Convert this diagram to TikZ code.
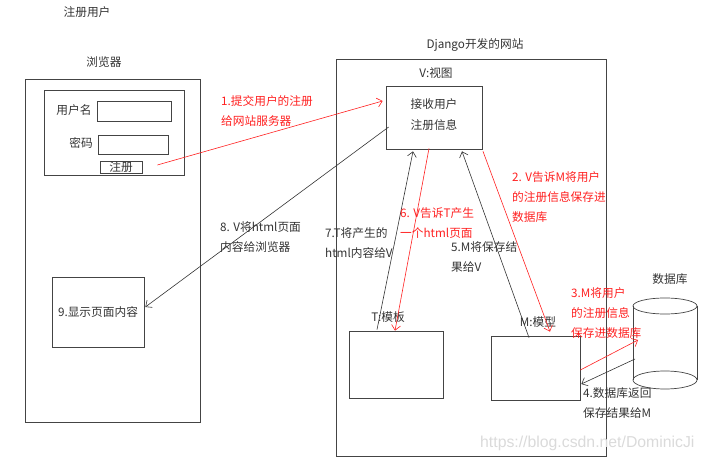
\documentclass[tikz,border=0pt]{standalone}
\usepackage{fontspec}
\setmainfont{Noto Sans CJK SC}
\newfontfamily\wmfont{Liberation Sans}
\usetikzlibrary{arrows.meta,calc}
\definecolor{ink}{HTML}{333333}
\definecolor{boxline}{HTML}{444444}
\definecolor{redline}{HTML}{FF2020}
\definecolor{wmgray}{HTML}{DADADA}
\tikzset{
  box/.style={draw=boxline,line width=0.7pt,inner sep=0pt,minimum width=#1},
  txt/.style={text=ink,inner sep=0pt,font=\fontsize{11.7}{20}\selectfont},
  lbl/.style={txt,anchor=west,align=left},
  rlbl/.style={lbl,text=redline},
  blackarrow/.style={draw=ink,line width=0.6pt,-{Straight Barb[length=5pt,width=9pt]}},
  redarrow/.style={draw=redline,line width=0.6pt,-{Straight Barb[length=5pt,width=9pt]}},
}
\begin{document}
\begin{tikzpicture}[x=1pt,y=-1pt]
\useasboundingbox (0,0) rectangle (704,462);
% titles
\node[txt] (tUser) at (87,12) {注册用户};
\node[txt] (tBrowser) at (104,62) {浏览器};
\node[txt] (tSite) at (475,45) {Django开发的网站};
% browser
\node[box=175pt,minimum height=343pt] (browser) at (112.5,250.5) {};
\node[box=140pt,minimum height=85pt] (form) at (114,132.5) {};
\node[txt] (lUser) at (74,110) {用户名};
\node[box=74pt,minimum height=20pt] (in1) at (134,111) {};
\node[txt] (lPwd) at (81,143) {密码};
\node[box=70pt,minimum height=19pt] (in2) at (133,144.5) {};
\node[box=42pt,minimum height=12pt,txt,draw=boxline] (btn) at (121,167) {注册};
\node[box=92pt,minimum height=70pt] (show) at (98,312) {};
\node[txt] (showtxt) at (98,312) {9.显示页面内容};
% site
\node[box=270pt,minimum height=397pt] (site) at (471,257.5) {};
\node[txt] (tV) at (436,73) {V:视图};
\node[box=96pt,minimum height=63pt] (V) at (434,117.5) {};
\node[txt,align=center,font=\fontsize{11.7}{21}\selectfont] (Vtxt) at (434,114.5) {接收用户\\注册信息};
\node[txt] (tT) at (388,317) {T:模板};
\node[box=94pt,minimum height=67pt] (T) at (396,364.5) {};
\node[txt] (tM) at (538,322) {M:模型};
\node[box=89pt,minimum height=64pt] (M) at (535.5,368) {};
% database
\node[txt] (tDB) at (670,279) {数据库};
\draw[boxline,line width=0.7pt] (665,306) ellipse [x radius=32,y radius=8];
\draw[boxline,line width=0.7pt] (665,380) ellipse [x radius=32,y radius=9];
\draw[boxline,line width=0.7pt] (633,306) -- (633,380) (697,306) -- (697,380);
\coordinate (DBin) at (638,340);
\coordinate (DBout) at (635,359);
% connector end points
\coordinate (btnOut) at ($(btn.east)+(15,-2)$);
\coordinate (Vin) at ($(V.west)+(-3,-16.5)$);
\coordinate (Vout8) at ($(V.west)+(3,9.5)$);
\coordinate (showIn) at ($(show.east)+(1,-5)$);
\coordinate (Vb6) at ($(V.south)+(-5,-1)$);
\coordinate (Tt6) at ($(T.north)+(-1,0)$);
\coordinate (Tt7) at ($(T.north)+(-19,-1)$);
\coordinate (Vb7) at ($(V.south)+(-21,2)$);
\coordinate (Mt5) at ($(M.north)+(-6.5,2)$);
\coordinate (Vb5) at ($(V.south)+(28,2)$);
\coordinate (Vb2) at ($(V.south)+(49,2)$);
\coordinate (Mt2) at ($(M.north)+(14.5,-4)$);
\coordinate (Mr3) at ($(M.east)+(0,2)$);
\coordinate (Mr4) at ($(M.east)+(1,16)$);
% connectors
\draw[redarrow] (btnOut) -- (Vin);
\draw[blackarrow] (Vout8) -- (showIn);
\draw[redarrow] (Vb6) -- (Tt6);
\draw[blackarrow] (Tt7) -- (Vb7);
\draw[blackarrow] (Mt5) -- (Vb5);
\draw[redarrow] (Vb2) -- (Mt2);
\draw[redarrow] (Mr3) -- (DBin);
\draw[blackarrow] (DBout) -- (Mr4);
% labels
\node[rlbl] (l1) at (221,111) {1.提交用户的注册\\给网站服务器};
\node[rlbl] (l2) at (512,197) {2. V告诉M将用户\\的注册信息保存进\\数据库};
\node[rlbl] (l3) at (571,313) {3.M将用户\\的注册信息\\保存进数据库};
\node[lbl] (l4) at (583,403) {4.数据库返回\\保存结果给M};
\node[lbl] (l5) at (451,257) {5.M将保存结\\果给V};
\node[rlbl] (l6) at (400,223) {6. V告诉T产生\\一个html页面};
\node[lbl] (l7) at (325,243) {7.T将产生的\\html内容给V};
\node[lbl] (l8) at (220,237) {8. V将html页面\\内容给浏览器};
% watermark
\node[inner sep=0pt,anchor=west,text=wmgray,font=\wmfont\fontsize{15.8}{18}\selectfont] (wm) at (480,443) {https://blog.csdn.net/DominicJi};
\end{tikzpicture}
\end{document}
